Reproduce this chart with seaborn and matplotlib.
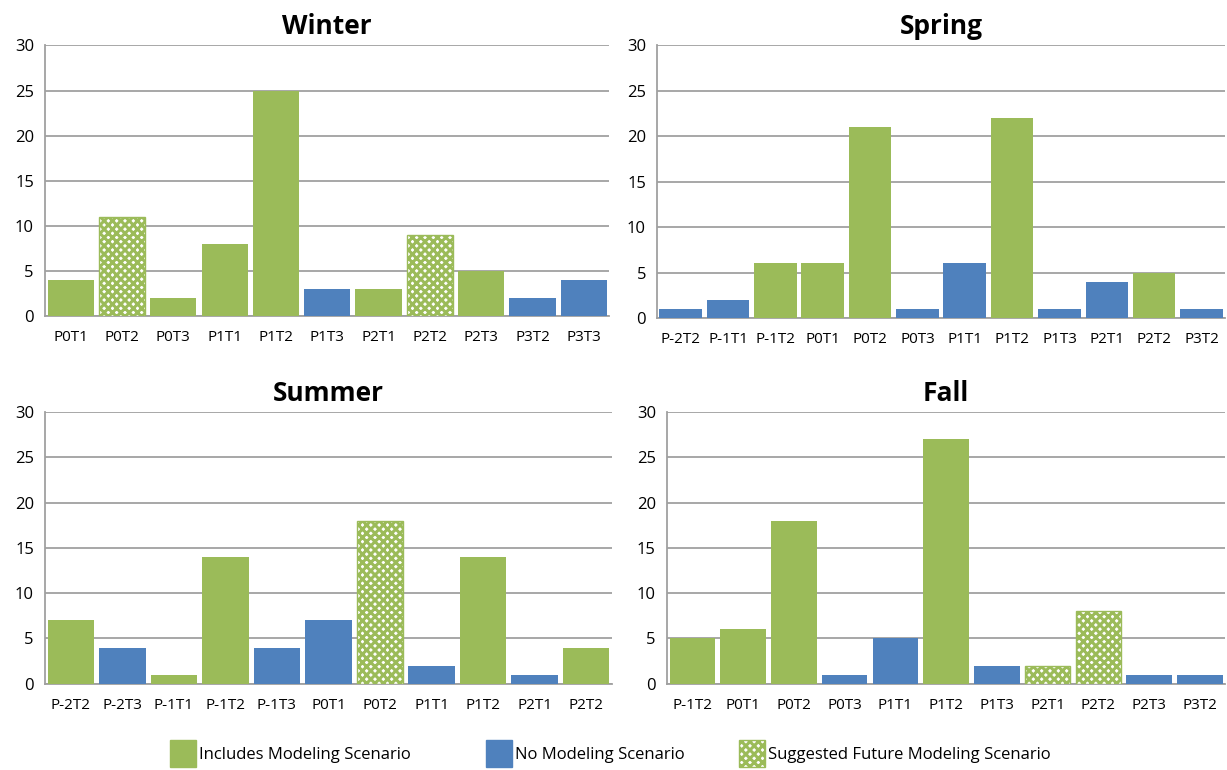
import matplotlib
matplotlib.use("Agg")
import matplotlib.pyplot as plt
from matplotlib.patches import Rectangle
import seaborn as sns

sns.set_style("white")
plt.rcParams['font.family'] = ['Open Sans', 'DejaVu Sans']
plt.rcParams['hatch.linewidth'] = 2.2
plt.rcParams['text.color'] = 'black'
plt.rcParams['xtick.color'] = 'black'
plt.rcParams['ytick.color'] = 'black'

GREEN = "#9BBB59"
BLUE = "#4F81BD"
GRID = "#A0A0A0"

# I = includes modeling, N = no modeling, S = suggested future modeling
winter_labels = ["P0T1", "P0T2", "P0T3", "P1T1", "P1T2", "P1T3", "P2T1", "P2T2", "P2T3", "P3T2", "P3T3"]
winter_values = [4, 11, 2, 8, 25, 3, 3, 9, 5, 2, 4]
winter_kind = ["I", "S", "I", "I", "I", "N", "I", "S", "I", "N", "N"]

spring_labels = ["P-2T2", "P-1T1", "P-1T2", "P0T1", "P0T2", "P0T3", "P1T1", "P1T2", "P1T3", "P2T1", "P2T2", "P3T2"]
spring_values = [1, 2, 6, 6, 21, 1, 6, 22, 1, 4, 5, 1]
spring_kind = ["N", "N", "I", "I", "I", "N", "N", "I", "N", "N", "I", "N"]

summer_labels = ["P-2T2", "P-2T3", "P-1T1", "P-1T2", "P-1T3", "P0T1", "P0T2", "P1T1", "P1T2", "P2T1", "P2T2"]
summer_values = [7, 4, 1, 14, 4, 7, 18, 2, 14, 1, 4]
summer_kind = ["I", "N", "I", "I", "N", "N", "S", "N", "I", "N", "I"]

fall_labels = ["P-1T2", "P0T1", "P0T2", "P0T3", "P1T1", "P1T2", "P1T3", "P2T1", "P2T2", "P2T3", "P3T2"]
fall_values = [5, 6, 18, 1, 5, 27, 2, 2, 8, 1, 1]
fall_kind = ["I", "I", "I", "N", "N", "I", "N", "S", "S", "N", "N"]

legend_labels = ["Includes Modeling Scenario", "No Modeling Scenario", "Suggested Future Modeling Scenario"]


def season_plot(ax, title, labels, values, kinds):
    colors = [BLUE if k == "N" else GREEN for k in kinds]
    sns.barplot(x=labels, y=values, hue=labels, palette=colors, legend=False,
                width=0.9, saturation=1, linewidth=0, ax=ax, zorder=3)
    for patch, k in zip(ax.patches, kinds):
        if k == "S":
            patch.set_facecolor("white")
            patch.set_edgecolor(GREEN)
            patch.set_hatch("xxxx")
            patch.set_linewidth(1.0)
    ax.set_ylim(0, 30)
    ax.set_yticks(range(0, 31, 5))
    ax.set_xlim(-0.5, len(labels) - 0.5)
    ax.yaxis.grid(True, color=GRID, linewidth=1.3, zorder=0)
    ax.set_axisbelow(True)
    for s in ["top", "right"]:
        ax.spines[s].set_visible(False)
    for s in ["left", "bottom"]:
        ax.spines[s].set_color(GRID)
        ax.spines[s].set_linewidth(1.3)
    ax.tick_params(axis="x", length=0, labelsize=11, pad=10)
    ax.tick_params(axis="y", length=0, labelsize=12, pad=8)
    ax.set_xticks([i - 0.5 for i in range(len(labels) + 1)], minor=True)
    ax.tick_params(axis="x", which="minor", length=5, color=GRID, width=1.3, direction="out")
    ax.set_title(title, fontsize=19, fontweight="bold", pad=8)
    ax.set_xlabel("")
    ax.set_ylabel("")


fig = plt.figure(figsize=(12.27, 7.7), dpi=100)
ax_w = fig.add_axes([0.0367, 0.589, 0.460, 0.352])
ax_sp = fig.add_axes([0.5355, 0.587, 0.463, 0.354])
ax_su = fig.add_axes([0.0367, 0.112, 0.462, 0.353])
ax_f = fig.add_axes([0.5436, 0.112, 0.455, 0.353])

season_plot(ax_w, "Winter", winter_labels, winter_values, winter_kind)
season_plot(ax_sp, "Spring", spring_labels, spring_values, spring_kind)
season_plot(ax_su, "Summer", summer_labels, summer_values, summer_kind)
season_plot(ax_f, "Fall", fall_labels, fall_values, fall_kind)

# legend drawn manually to match the uneven spacing
W, H = 1227, 770
boxes = [(170, GREEN, None), (486, BLUE, None), (739, "white", "xxxx")]
for (x0, fc, hatch), lab in zip(boxes, legend_labels):
    r = Rectangle((x0 / W, 1 - 767 / H), 26 / W, 27 / H, transform=fig.transFigure,
                  facecolor=fc, edgecolor=GREEN if hatch else fc, hatch=hatch, linewidth=1)
    fig.patches.append(r)
    fig.text((x0 + 29) / W, 1 - 755 / H, lab, fontsize=12, va="center", ha="left")

fig.savefig("out.png", dpi=100)
